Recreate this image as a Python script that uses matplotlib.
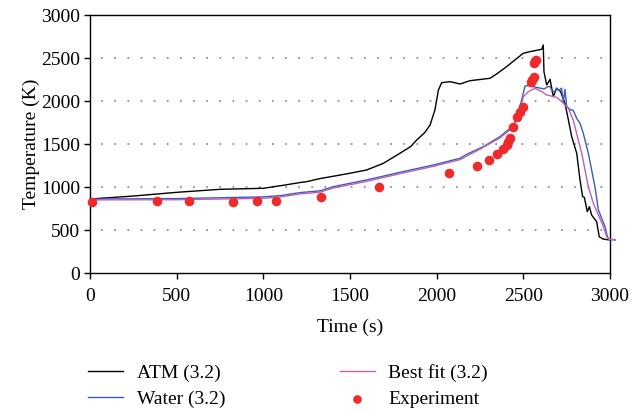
import numpy as np
from matplotlib import pyplot as plt

# ATM (3.2)
atm_t = [0, 250, 500, 750, 1000, 1115, 1212, 1250, 1327, 1404, 1500, 1596, 1692, 1788, 1850,
         1885, 1930, 1962, 1990, 2010, 2029, 2077, 2135, 2192, 2308, 2350, 2404, 2450, 2500,
         2538, 2606, 2615, 2619, 2635, 2654, 2673, 2692, 2715, 2740, 2760, 2779, 2808, 2827,
         2842, 2852, 2869, 2881, 2894, 2923, 2938, 2960, 2981, 3000]
atm_T = [860, 895, 938, 973, 985, 1020, 1052, 1062, 1098, 1125, 1160, 1198, 1275, 1392, 1470,
         1547, 1630, 1721, 1896, 2128, 2213, 2225, 2198, 2236, 2264, 2320, 2400, 2475, 2555,
         2574, 2601, 2651, 2341, 2186, 2252, 2050, 2148, 2109, 1973, 1779, 1585, 1392, 1082,
         887, 880, 713, 771, 674, 597, 422, 395, 388, 385]

# Water (3.2)
water_t = [0, 500, 1000, 1100, 1212, 1327, 1404, 1596, 1788, 1981, 2135, 2173, 2269, 2365,
           2423, 2462, 2490, 2510, 2530, 2560, 2596, 2620, 2640, 2654, 2665, 2683, 2692, 2705,
           2720, 2731, 2740, 2750, 2770, 2788, 2810, 2827, 2846, 2875, 2894, 2913, 2933, 2952,
           2971, 2985, 2995, 3030]
water_T = [860, 865, 885, 900, 935, 955, 1004, 1082, 1171, 1256, 1334, 1380, 1469, 1585,
           1683, 1779, 2012, 2175, 2180, 2165, 2150, 2140, 2165, 2170, 2120, 2110, 2150, 2120,
           2150, 1990, 2136, 1940, 1900, 1890, 1790, 1740, 1624, 1392, 1198, 1004, 733, 636,
           539, 422, 390, 385]

# Best fit (3.2)
fit_t = [0, 500, 1000, 1100, 1212, 1327, 1404, 1596, 1788, 1981, 2135, 2250, 2365, 2423,
         2470, 2500, 2529, 2567, 2606, 2635, 2692, 2721, 2760, 2788, 2817, 2837, 2856, 2875,
         2904, 2933, 2962, 2981, 2995, 3030]
fit_T = [850, 852, 868, 885, 920, 940, 988, 1065, 1155, 1240, 1318, 1440, 1570, 1665,
         1820, 2050, 2109, 2148, 2109, 2070, 2043, 1992, 1915, 1779, 1547, 1392, 1198, 1004,
         810, 674, 539, 422, 390, 385]

# Experiment
exp_t = [10, 385, 569, 827, 965, 1071, 1333, 1667, 2071, 2235, 2300, 2348, 2381, 2404,
         2413, 2423, 2442, 2465, 2481, 2500, 2542, 2552, 2562, 2562, 2568, 2573]
exp_T = [830, 837, 837, 826, 837, 837, 880, 997, 1167, 1248, 1310, 1380, 1442, 1490,
         1520, 1566, 1702, 1818, 1876, 1927, 2225, 2250, 2276, 2439, 2460, 2477]

plt.rcParams['font.family'] = ['Liberation Serif', 'DejaVu Serif']
plt.rcParams['font.size'] = 14

fig = plt.figure(figsize=(6.31, 4.11), dpi=100)
ax = fig.add_axes([90 / 631, 1 - 273 / 411, 520 / 631, 258 / 411])

ax.plot(atm_t, atm_T, color='black', lw=1.0, label='ATM (3.2)', zorder=3)
ax.plot(water_t, water_T, color='#3a5cb8', lw=1.0, label='Water (3.2)', zorder=3, clip_on=False)
ax.plot(fit_t, fit_T, color='#c060b8', lw=1.0, label='Best fit (3.2)', zorder=3, clip_on=False)
ax.scatter(exp_t, exp_T, s=48, color='#ee2a2a', label='Experiment', zorder=4, clip_on=False,
           linewidths=0)

ax.set_xlim(0, 3000)
ax.set_ylim(0, 3000)
ax.set_xticks(range(0, 3001, 500))
ax.set_yticks(range(0, 3001, 500))

for y in range(500, 3000, 500):
    ax.axhline(y, color='#777777', lw=1.1, linestyle=(1.3, (1.1, 7.5)), zorder=1)

for s in ax.spines.values():
    s.set_linewidth(1.0)
ax.tick_params(direction='out', length=4, width=1.0, labelsize=14)
ax.tick_params(axis='x', pad=6.5)
ax.tick_params(axis='y', pad=3)

ax.set_xlabel('Time (s)', fontsize=14, labelpad=10)
ax.set_ylabel('Temperature (K)', fontsize=14, labelpad=1)

fig.legend(loc='upper left', bbox_to_anchor=(88 / 631, 1 - 364 / 411), ncol=2,
           frameon=False, fontsize=14, handlelength=1.8, handletextpad=0.7,
           columnspacing=5.9, labelspacing=0.45, borderpad=0, borderaxespad=0,
           scatterpoints=1, markerscale=0.9)

fig.savefig('out.png', dpi=100)
